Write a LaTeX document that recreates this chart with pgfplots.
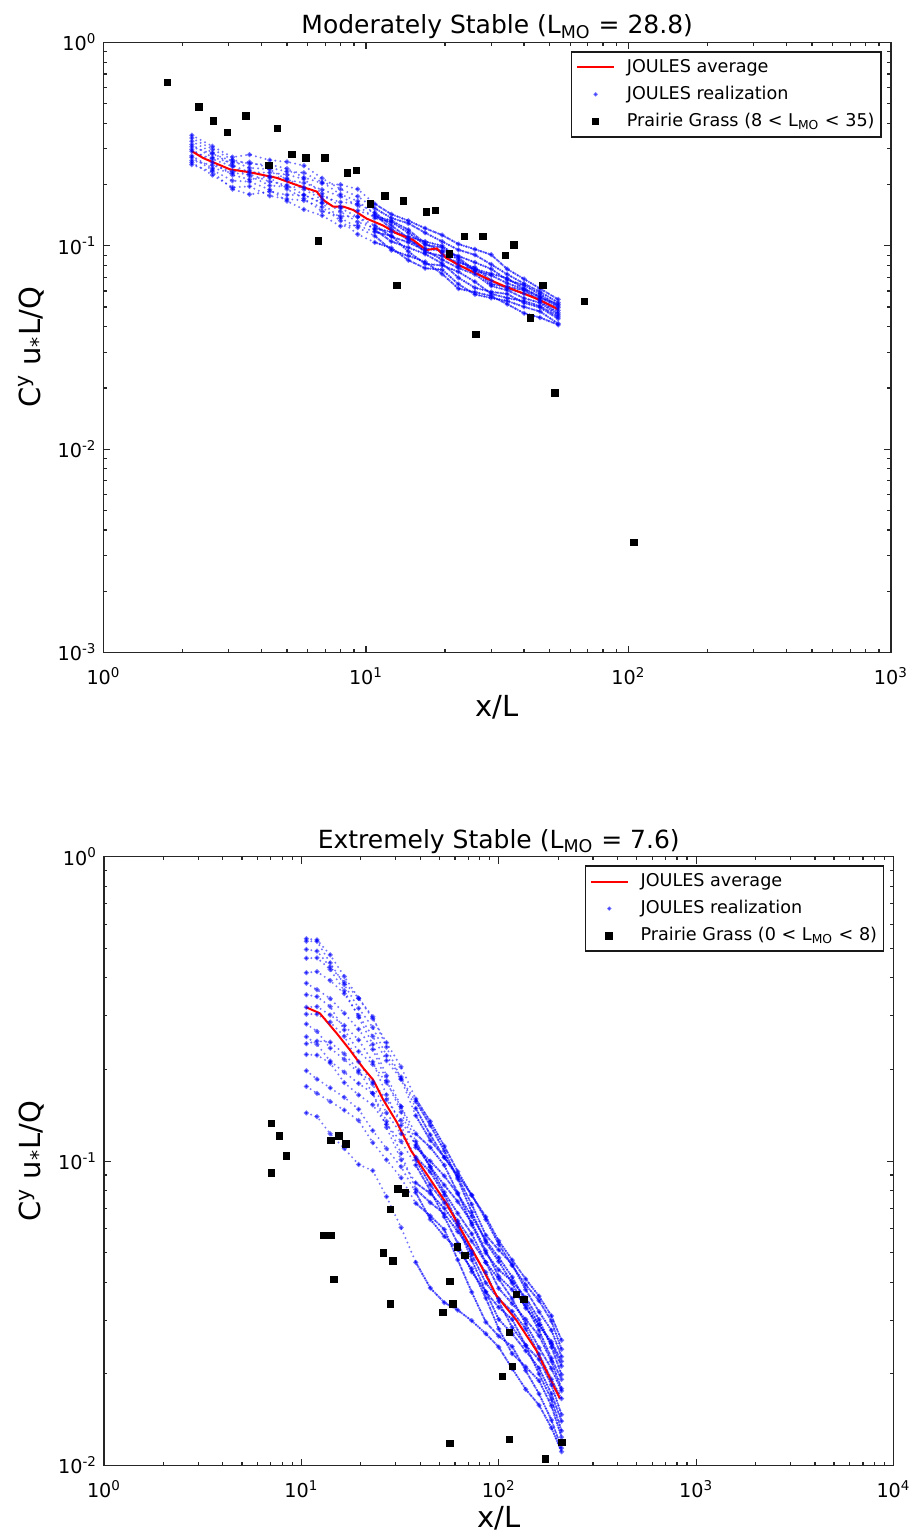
\documentclass[border=0pt]{standalone}
\usepackage{fontspec}
\setmainfont{DejaVu Sans}
\usepackage{pgfplots}
\pgfplotsset{compat=1.18}
\usepackage{pgfplotstable}

\pgfplotstableread{
x r1 r2 r3 r4 r5 r6 r7 r8 r9 r10 r11 r12
2.17 0.350 0.257 0.307 0.277 0.327 0.263 0.292 0.339 0.251 0.298 0.315 0.272
2.6 0.309 0.223 0.283 0.241 0.288 0.249 0.267 0.299 0.231 0.257 0.272 0.236
3.1 0.273 0.194 0.261 0.228 0.249 0.232 0.246 0.265 0.190 0.223 0.256 0.209
3.6 0.281 0.196 0.242 0.225 0.230 0.235 0.221 0.253 0.179 0.212 0.258 0.207
4.3 0.264 0.176 0.238 0.207 0.229 0.216 0.198 0.251 0.185 0.220 0.242 0.189
5.0 0.259 0.170 0.211 0.199 0.224 0.190 0.195 0.240 0.178 0.215 0.232 0.166
5.8 0.248 0.167 0.204 0.178 0.213 0.171 0.194 0.217 0.178 0.190 0.229 0.151
6.8 0.215 0.155 0.189 0.163 0.181 0.148 0.175 0.203 0.162 0.169 0.206 0.141
8.0 0.190 0.133 0.175 0.153 0.156 0.140 0.164 0.200 0.137 0.147 0.179 0.125
9.3 0.175 0.114 0.158 0.139 0.149 0.139 0.161 0.190 0.123 0.131 0.166 0.126
10.8 0.153 0.104 0.137 0.126 0.140 0.120 0.146 0.161 0.112 0.122 0.143 0.117
12.5 0.137 0.0976 0.131 0.111 0.133 0.105 0.126 0.143 0.0952 0.117 0.121 0.112
14.5 0.129 0.0850 0.116 0.104 0.120 0.0981 0.109 0.133 0.0894 0.111 0.107 0.0937
16.8 0.116 0.0776 0.101 0.0951 0.103 0.0912 0.0931 0.122 0.0834 0.105 0.097 0.0815
19.5 0.105 0.0764 0.0983 0.0855 0.0928 0.0819 0.0892 0.113 0.0728 0.100 0.0946 0.0801
22.5 0.0956 0.0648 0.0851 0.0778 0.0794 0.0697 0.0826 0.102 0.0616 0.0875 0.0891 0.0745
26 0.0903 0.0577 0.0755 0.0725 0.0770 0.0622 0.0784 0.0962 0.0592 0.0755 0.0829 0.0666
30 0.0810 0.0554 0.0716 0.0635 0.0729 0.0594 0.0675 0.0905 0.0567 0.0648 0.0770 0.0581
34.5 0.0725 0.0536 0.0655 0.0605 0.0693 0.0580 0.0617 0.0769 0.0517 0.063 0.0680 0.0554
40 0.0652 0.0501 0.0611 0.0553 0.0617 0.0524 0.0582 0.0687 0.0466 0.0605 0.0640 0.0535
46 0.0595 0.0476 0.0557 0.0525 0.0563 0.0498 0.0546 0.0617 0.0444 0.0536 0.0579 0.0506
54 0.0526 0.0414 0.0516 0.0458 0.0497 0.0438 0.0482 0.0545 0.0409 0.0468 0.0506 0.0448
}\topreal

\pgfplotstableread{
x b1 b2 b3 b4 b5 b6 b7 b8 b9 b10 b11 b12 b13 b14 b15 b16
10.6 0.528 0.144 0.416 0.256 0.352 0.198 0.464 0.304 0.384 0.224 0.496 0.282 0.320 0.176 0.538 0.243
12 0.527 0.140 0.419 0.242 0.347 0.186 0.465 0.304 0.366 0.223 0.490 0.267 0.322 0.167 0.533 0.248
14 0.448 0.123 0.392 0.213 0.322 0.174 0.426 0.286 0.342 0.210 0.434 0.235 0.302 0.157 0.476 0.246
16.5 0.380 0.110 0.355 0.196 0.270 0.162 0.363 0.257 0.306 0.181 0.387 0.216 0.279 0.147 0.404 0.225
19.5 0.318 0.0975 0.301 0.180 0.229 0.148 0.297 0.212 0.271 0.165 0.343 0.195 0.250 0.136 0.343 0.199
23 0.275 0.093 0.257 0.167 0.208 0.126 0.242 0.179 0.233 0.153 0.298 0.182 0.212 0.115 0.294 0.167
27 0.222 0.0765 0.214 0.135 0.181 0.110 0.191 0.144 0.184 0.132 0.237 0.159 0.165 0.101 0.245 0.129
32 0.189 0.0605 0.186 0.106 0.151 0.0958 0.151 0.123 0.145 0.116 0.186 0.136 0.131 0.0882 0.204 0.101
38 0.149 0.0465 0.157 0.0808 0.116 0.0788 0.123 0.103 0.111 0.0970 0.141 0.113 0.101 0.0727 0.160 0.0848
45 0.122 0.0383 0.131 0.0731 0.0957 0.0644 0.111 0.0922 0.100 0.0800 0.117 0.0957 0.0835 0.0661 0.135 0.0783
53 0.1028 0.0343 0.108 0.0671 0.0834 0.0566 0.0969 0.0775 0.0894 0.0656 0.103 0.0790 0.0730 0.0596 0.112 0.0700
62 0.0886 0.0324 0.0874 0.0587 0.0736 0.0512 0.0786 0.0624 0.0780 0.0537 0.0899 0.0674 0.0636 0.0474 0.0924 0.0612
73 0.0721 0.0299 0.0680 0.0505 0.0628 0.0443 0.0618 0.0494 0.0659 0.0433 0.0773 0.0577 0.0546 0.0371 0.0773 0.0474
86 0.0571 0.0271 0.0541 0.0431 0.0508 0.0355 0.0499 0.0398 0.0550 0.0372 0.0643 0.0465 0.0465 0.0296 0.0656 0.0372
100 0.0511 0.0245 0.0468 0.0346 0.0418 0.0281 0.0439 0.0353 0.0482 0.0331 0.0533 0.0382 0.0410 0.0266 0.0547 0.0302
117 0.0457 0.0208 0.0397 0.0284 0.0378 0.0233 0.0403 0.0321 0.0416 0.0302 0.0454 0.0340 0.0353 0.0246 0.0473 0.0271
137 0.0378 0.0178 0.0329 0.0248 0.0335 0.0211 0.0356 0.0281 0.0346 0.0248 0.0392 0.0302 0.0292 0.0205 0.0410 0.0238
160 0.0320 0.0158 0.0290 0.0223 0.0278 0.0190 0.0302 0.0232 0.0290 0.0200 0.0348 0.0267 0.0244 0.0172 0.0360 0.0209
185 0.0278 0.0133 0.0255 0.0184 0.0225 0.0157 0.0245 0.0192 0.0251 0.0165 0.0298 0.0220 0.0208 0.0141 0.0310 0.0172
208 0.0228 0.0111 0.0220 0.0147 0.0192 0.0124 0.0199 0.0166 0.0212 0.0130 0.0241 0.0179 0.0176 0.0114 0.0258 0.0140
}\botreal

\tikzset{realstyle/.style={blue, opacity=0.55, line width=1.1pt, dash pattern=on 0pt off 2.5pt, line cap=round,
      mark=*, mark size=0.6pt, mark options={solid, draw=none, fill=blue}},
  realsolid/.style={blue, opacity=0.6, line width=1.3pt, dash pattern=on 0pt off 1.3pt, line cap=round, line join=round}}

\begin{document}
\begin{tikzpicture}
\useasboundingbox (-51.75pt,-440.25pt) rectangle (407.75pt,326.25pt);
% ---------------- top panel ----------------
\begin{axis}[
  xmode=log, ymode=log, scale only axis,
  at={(0pt,0pt)}, anchor=south west, width=393.75pt, height=305pt,
  axis line style={black!85, line width=0.7pt},
  tick align=inside, major tick length=3.5pt, minor tick length=1.75pt,
  tick style={black!85, line width=0.6pt},
  tick label style={font=\fontsize{9.6}{11}\selectfont},
  xticklabel style={anchor=base, yshift=-16pt},
  label style={font=\fontsize{14.5}{17}\selectfont},
  title style={font=\fontsize{12.5}{15}\selectfont, at={(0.5,1)}, anchor=base, yshift=-1.7pt},
  legend cell align=left,
  legend style={at={(1,1)}, anchor=north east, xshift=-4.5pt, yshift=-4.25pt,
    draw=black!90, line width=0.8pt, inner sep=2.3pt, font=\fontsize{8.8}{10}\selectfont,
    row sep=2.5pt, column sep=5pt, nodes={inner sep=1pt, text height=7pt, text depth=2pt}},
  xlabel={x/L},
  ylabel={C\textsuperscript{y} u\textsubscript{*}L/Q},
  xmin=1, xmax=1000, ymin=0.001, ymax=1,
  xtick={1,10,100,1000},
  xticklabels={10\textsuperscript{0},10\textsuperscript{1},10\textsuperscript{2},10\textsuperscript{3}},
  ytick={0.001,0.01,0.1,1},
  yticklabels={10\textsuperscript{-3},10\textsuperscript{-2},10\textsuperscript{-1},10\textsuperscript{0}},
  minor xtick={2,3,4,5,6,7,8,9,20,30,40,50,60,70,80,90,200,300,400,500,600,700,800,900},
  minor ytick={0.002,0.003,0.004,0.005,0.006,0.007,0.008,0.009,0.02,0.03,0.04,0.05,0.06,0.07,0.08,0.09,0.2,0.3,0.4,0.5,0.6,0.7,0.8,0.9},
  xlabel style={at={(0.5,-0.1057)}, anchor=base},
  ylabel style={at={(-0.0806,0.5)}, anchor=base},
  title={Moderately Stable (L\textsubscript{MO} = 28.8)},
]
\addlegendimage{legend image code/.code={\draw[red, line width=1pt] (0pt,0pt) -- (18.3pt,0pt);}}
\addlegendentry{JOULES average}
\addlegendimage{legend image code/.code={\path (0pt,0pt) (18.3pt,0pt); \fill[blue, opacity=0.5] (9.15pt,0pt) circle (0.6pt);}}
\addlegendentry{JOULES realization}
\addlegendimage{legend image code/.code={\path (0pt,0pt) (18.3pt,0pt); \fill[black] (7.6pt,-1.55pt) rectangle (10.7pt,1.55pt);}}
\addlegendentry{Prairie Grass (8 < L\textsubscript{MO} < 35)}

\pgfplotsinvokeforeach{1,...,12}{
  \addplot[realstyle, forget plot] table[x=x, y=r#1] {\topreal};
  \addplot[realsolid, forget plot, skip coords between index={0}{10}] table[x=x, y=r#1] {\topreal};
}
\addplot[red, line width=1pt, forget plot] coordinates {
(2.17,0.292) (2.40,0.270) (3.03,0.238) (3.61,0.230) (4.57,0.216) (5.45,0.199)
(6.49,0.185) (6.88,0.168) (7.50,0.156) (8.20,0.156) (8.95,0.150) (10.07,0.136)
(11.6,0.126) (13.1,0.115) (15.1,0.107) (17.0,0.0953) (18.6,0.0972) (20.3,0.0868)
(22.8,0.080) (25.5,0.0745) (29.7,0.0679) (34,0.0630) (39.7,0.0584) (46,0.0541) (54,0.0487)
};
\addplot[only marks, mark=square*, mark size=1.6pt, black, forget plot] coordinates {
(1.75,0.637) (2.31,0.482) (2.62,0.412) (2.96,0.362) (3.49,0.436) (4.59,0.378)
(4.26,0.248) (5.23,0.282) (5.91,0.271) (6.98,0.271) (6.58,0.106) (8.51,0.228)
(9.19,0.235) (10.4,0.161) (11.8,0.176) (13.1,0.0637) (13.9,0.166) (17.0,0.147)
(18.4,0.149) (20.8,0.0914) (23.7,0.111) (27.9,0.111) (36.6,0.101) (33.9,0.0898)
(26.2,0.0367) (47.2,0.0637) (42.4,0.0443) (68.0,0.0533) (52.5,0.0189) (105,0.00349)
};
\end{axis}
% ---------------- bottom panel ----------------
\begin{axis}[
  xmode=log, ymode=log, scale only axis,
  at={(0.25pt,-406.5pt)}, anchor=south west, width=394.75pt, height=304.4pt,
  axis line style={black!85, line width=0.7pt},
  tick align=inside, major tick length=3.5pt, minor tick length=1.75pt,
  tick style={black!85, line width=0.6pt},
  tick label style={font=\fontsize{9.6}{11}\selectfont},
  xticklabel style={anchor=base, yshift=-16pt},
  label style={font=\fontsize{14.5}{17}\selectfont},
  title style={font=\fontsize{12.5}{15}\selectfont, at={(0.5,1)}, anchor=base, yshift=-1.7pt},
  legend cell align=left,
  legend style={at={(1,1)}, anchor=north east, xshift=-4.5pt, yshift=-4.25pt,
    draw=black!90, line width=0.8pt, inner sep=2.3pt, font=\fontsize{8.8}{10}\selectfont,
    row sep=2.5pt, column sep=5pt, nodes={inner sep=1pt, text height=7pt, text depth=2pt}},
  xlabel={x/L},
  ylabel={C\textsuperscript{y} u\textsubscript{*}L/Q},
  xmin=1, xmax=10000, ymin=0.01, ymax=1,
  xtick={1,10,100,1000,10000},
  xticklabels={10\textsuperscript{0},10\textsuperscript{1},10\textsuperscript{2},10\textsuperscript{3},10\textsuperscript{4}},
  ytick={0.01,0.1,1},
  yticklabels={10\textsuperscript{-2},10\textsuperscript{-1},10\textsuperscript{0}},
  minor xtick={2,3,4,5,6,7,8,9,20,30,40,50,60,70,80,90,200,300,400,500,600,700,800,900,2000,3000,4000,5000,6000,7000,8000,9000},
  minor ytick={0.02,0.03,0.04,0.05,0.06,0.07,0.08,0.09,0.2,0.3,0.4,0.5,0.6,0.7,0.8,0.9},
  xlabel style={at={(0.5,-0.1025)}, anchor=base},
  ylabel style={at={(-0.0804,0.5)}, anchor=base},
  title={Extremely Stable (L\textsubscript{MO} = 7.6)},
]
\addlegendimage{legend image code/.code={\draw[red, line width=1pt] (0pt,0pt) -- (18.3pt,0pt);}}
\addlegendentry{JOULES average}
\addlegendimage{legend image code/.code={\path (0pt,0pt) (18.3pt,0pt); \fill[blue, opacity=0.5] (9.15pt,0pt) circle (0.6pt);}}
\addlegendentry{JOULES realization}
\addlegendimage{legend image code/.code={\path (0pt,0pt) (18.3pt,0pt); \fill[black] (7.6pt,-1.55pt) rectangle (10.7pt,1.55pt);}}
\addlegendentry{Prairie Grass (0 < L\textsubscript{MO} < 8)}

\pgfplotsinvokeforeach{1,...,16}{
  \addplot[realstyle, forget plot] table[x=x, y=b#1] {\botreal};
  \addplot[realsolid, forget plot, skip coords between index={0}{8}] table[x=x, y=b#1] {\botreal};
}
\addplot[red, line width=1pt, forget plot] coordinates {
(10.6,0.320) (12.4,0.306) (15.1,0.263) (17.6,0.232) (20.6,0.202) (23.1,0.185)
(26.0,0.159) (30.5,0.134) (36,0.108) (44.5,0.088) (54.3,0.0726) (66.1,0.0578)
(80.2,0.0461) (97.3,0.0362) (123,0.030) (155,0.0239) (204,0.0166)
};
\addplot[only marks, mark=square*, mark size=1.6pt, black, forget plot] coordinates {
(7.06,0.133) (7.72,0.121) (8.41,0.104) (7.06,0.0915) (14.1,0.117) (15.5,0.121)
(16.8,0.114) (13.0,0.0571) (14.1,0.0571) (14.6,0.0409) (30.9,0.0811) (33.7,0.0787)
(28.2,0.0694) (26.1,0.0499) (29.1,0.0470) (28.2,0.0340) (61.8,0.0523) (67.3,0.0491)
(56.5,0.0403) (58.7,0.0340) (52.2,0.0319) (123,0.0365) (134,0.0351) (113,0.0274)
(117,0.0212) (104,0.0196) (56.5,0.0118) (113,0.0122) (209,0.0119) (172,0.0105)
};
\end{axis}
\end{tikzpicture}
\end{document}
